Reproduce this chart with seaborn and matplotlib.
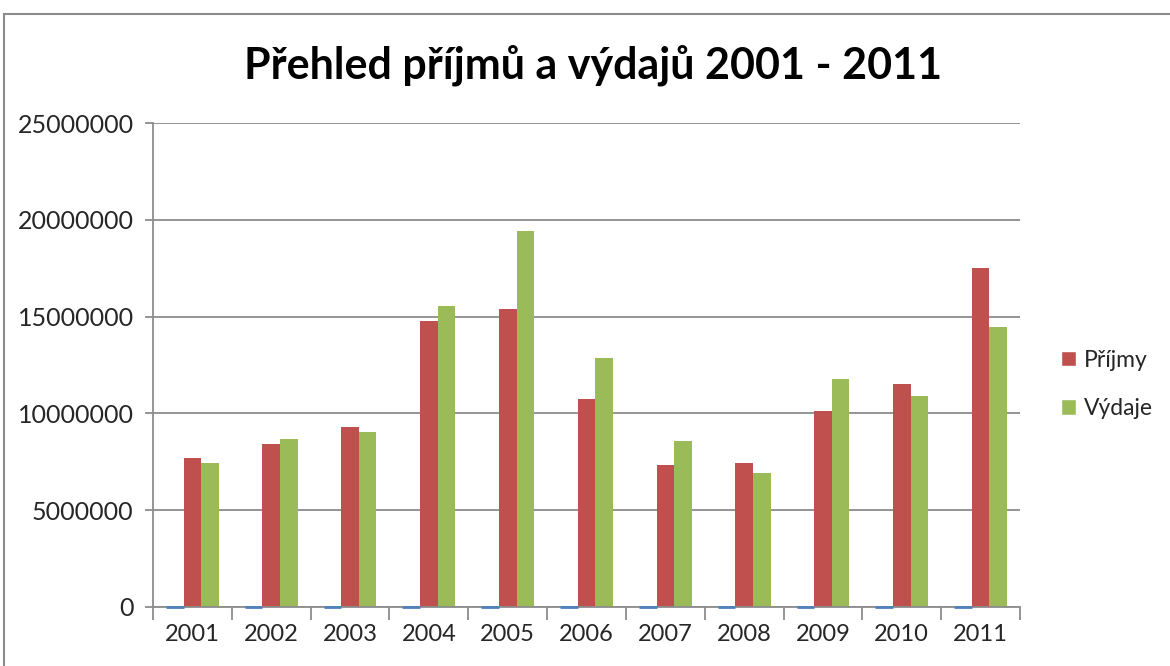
import numpy as np
import pandas as pd
import matplotlib
matplotlib.use('Agg')
import matplotlib.pyplot as plt
import seaborn as sns
from matplotlib.patches import Rectangle, Patch

# data
roky = ['2001', '2002', '2003', '2004', '2005', '2006', '2007', '2008', '2009', '2010', '2011']
rok_hodnota = [2001, 2002, 2003, 2004, 2005, 2006, 2007, 2008, 2009, 2010, 2011]  # the tiny blue series
prijmy = [7700000, 8420000, 9300000, 14770000, 15390000, 10740000, 7330000, 7440000, 10120000, 11520000, 17510000]
vydaje = [7440000, 8680000, 9040000, 15550000, 19420000, 12860000, 8570000, 6920000, 11780000, 10900000, 14460000]
serie = ['Rok', 'Příjmy', 'Výdaje']
barvy = {'Rok': '#4F81BD', 'Příjmy': '#C0504D', 'Výdaje': '#9BBB59'}

sns.set_theme(style='white')
plt.rcParams['font.family'] = ['Lato', 'DejaVu Sans']

df = pd.DataFrame({
    'Rok': roky * 3,
    'Hodnota': rok_hodnota + prijmy + vydaje,
    'Serie': [s for s in serie for _ in roky],
})

fig = plt.figure(figsize=(11.7, 6.66), dpi=100)
ax = fig.add_axes([0.1308, 0.0886, 0.741, 0.7267])

sns.barplot(data=df, x='Rok', y='Hodnota', hue='Serie', hue_order=serie,
            palette=barvy, width=0.67, saturation=1, errorbar=None,
            legend=False, linewidth=0, ax=ax)

# the year series is tiny; Excel still draws it as a thin line at the base
for bar in ax.containers[0]:
    bar.set_edgecolor(barvy['Rok'])
    bar.set_linewidth(2)
    bar.set_clip_on(False)
    bar.set_zorder(4)

ax.set_xlim(-0.5, len(roky) - 0.5)
ax.set_ylim(0, 25000000)
ax.set_yticks(np.arange(0, 25000001, 5000000))
ax.set_yticklabels([str(v) for v in range(0, 25000001, 5000000)])
ax.set_xlabel('')
ax.set_ylabel('')

ax.set_axisbelow(True)
ax.yaxis.grid(True, color='#8c8c8c', linewidth=1.3)
ax.xaxis.grid(False)
for s in ['top', 'right']:
    ax.spines[s].set_visible(False)
for s in ['left', 'bottom']:
    ax.spines[s].set_color('#8c8c8c')
    ax.spines[s].set_linewidth(1.3)

ax.tick_params(axis='y', length=6, width=1.3, color='#8c8c8c', labelsize=18, pad=8, left=True)
ax.tick_params(axis='x', which='major', length=0, labelsize=17, pad=12)
ax.set_xticks(np.arange(-0.5, len(roky), 1.0), minor=True)
ax.tick_params(axis='x', which='minor', length=9, width=1.3, color='#8c8c8c', bottom=True)

fig.text(0.507, 0.902, 'Přehled příjmů a výdajů 2001 - 2011', ha='center', va='center',
         fontsize=31, fontweight='bold', color='black')

handles = [Patch(facecolor=barvy['Příjmy'], label='Příjmy'),
           Patch(facecolor=barvy['Výdaje'], label='Výdaje')]
fig.legend(handles=handles, loc='center left', bbox_to_anchor=(0.907, 0.423),
           frameon=False, fontsize=16.5, handlelength=0.65, handleheight=0.65,
           handletextpad=0.35, labelspacing=1.2, borderaxespad=0, borderpad=0)

fig.patches.append(Rectangle((0.0034, -0.1), 1.2, 1 - 14 / 666 + 0.1, transform=fig.transFigure,
                             fill=False, edgecolor='#8c8c8c', linewidth=1.5))

fig.savefig('out.png', dpi=100)
